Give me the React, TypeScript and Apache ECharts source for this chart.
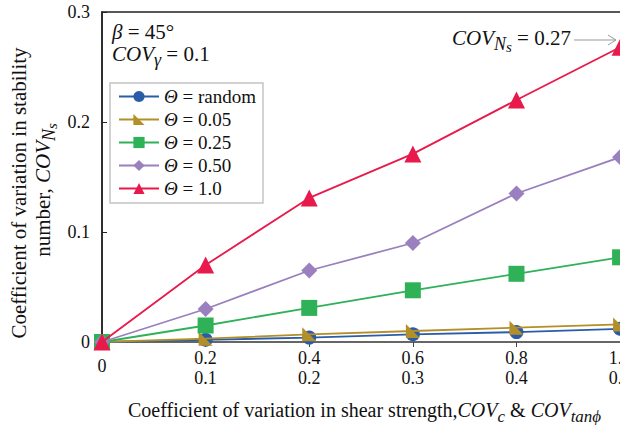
import React, { useEffect, useRef } from "react";
import * as echarts from "echarts";

const xValues = [0, 0.2, 0.4, 0.6, 0.8, 1.0];
const seriesNames = ["Θ = random", "Θ = 0.05", "Θ = 0.25", "Θ = 0.50", "Θ = 1.0"];
const randomVals = [0, 0.002, 0.004, 0.007, 0.009, 0.012];
const theta005 = [0, 0.003, 0.007, 0.01, 0.013, 0.016];
const theta025 = [0, 0.015, 0.031, 0.047, 0.062, 0.077];
const theta050 = [0, 0.03, 0.065, 0.09, 0.135, 0.168];
const theta100 = [0, 0.07, 0.131, 0.171, 0.22, 0.268];
const yTicks = [0, 0.1, 0.2, 0.3];

const FONT = "'Liberation Serif', 'Times New Roman', serif";

function makeRich(base: number) {
  return {
    i: { fontStyle: "italic", fontFamily: FONT, fontSize: base, lineHeight: 24 },
    s: {
      fontStyle: "italic",
      fontFamily: FONT,
      fontSize: Math.round(base * 0.86),
      lineHeight: 24,
      padding: [12, 0, 0, 0],
    },
    ss: {
      fontStyle: "italic",
      fontFamily: FONT,
      fontSize: Math.round(base * 0.7),
      lineHeight: 24,
      padding: [18, 0, 0, 0],
    },
  };
}

export default function App() {
  const ref = useRef<HTMLDivElement>(null);
  useEffect(() => {
    if (!ref.current) return;
    const chart = echarts.init(ref.current, null, { renderer: "svg" });
    const colors = ["#2b5ca8", "#b38f2a", "#2fb158", "#9a80be", "#e8194b"];
    const symbols = [
      "circle",
      "path://M0,0 L0,10 L10,10 Z",
      "rect",
      "diamond",
      "triangle",
    ];
    const sizes = [14, 14, 16, 16, 17];
    const allData = [randomVals, theta005, theta025, theta050, theta100];
    const rich21 = makeRich(21);
    const rich20 = makeRich(20);
    chart.setOption({
      animation: false,
      grid: {
        left: 102,
        top: 12,
        right: 14,
        bottom: 83,
        show: true,
        borderColor: "#222",
        borderWidth: 1.5,
      },
      xAxis: {
        type: "value",
        min: 0,
        max: 1.05,
        interval: 0.2,
        splitLine: { show: false },
        axisLine: { lineStyle: { color: "#666", width: 2 } },
        axisTick: { show: true, length: 5, inside: false, lineStyle: { color: "#444" } },
        axisLabel: {
          showMaxLabel: false,
          margin: 6,
          color: "#111",
          fontFamily: FONT,
          fontSize: 18,
          lineHeight: 20,
          formatter: (v: number) =>
            v === 0 ? "{z|0}" : `${v.toFixed(1)}\n${(v / 2).toFixed(1)}`,
          rich: { z: { fontFamily: FONT, fontSize: 18, lineHeight: 36, color: "#111" } },
        },
      },
      yAxis: {
        type: "value",
        min: yTicks[0],
        max: yTicks[yTicks.length - 1],
        interval: 0.1,
        splitLine: { show: false },
        axisLine: { show: true, lineStyle: { color: "#222", width: 1.5 } },
        axisTick: { show: true, inside: true, length: 5, lineStyle: { color: "#222" } },
        axisLabel: {
          margin: 12,
          color: "#111",
          fontFamily: FONT,
          fontSize: 18,
          formatter: (v: number) => (v === 0 ? "0" : v.toFixed(1)),
        },
      },
      legend: {
        orient: "vertical",
        left: 110,
        top: 83,
        itemWidth: 40,
        itemHeight: 14,
        itemGap: 4,
        padding: [4, 7, 5, 8],
        backgroundColor: "#fff",
        borderColor: "#c4c4c4",
        borderWidth: 1.5,
        data: seriesNames,
        formatter: (name: string) => name.replace("Θ", "{i|Θ}"),
        textStyle: {
          fontFamily: FONT,
          fontSize: 19,
          lineHeight: 19,
          color: "#111",
          rich: { i: { fontStyle: "italic", fontFamily: FONT, fontSize: 19, lineHeight: 19, color: "#111" } },
        },
      },
      series: seriesNames.map((name, k) => ({
        name,
        type: "line",
        data: xValues.map((x, j) => [x, allData[k][j]]),
        symbol: symbols[k],
        symbolSize: sizes[k],
        symbolKeepAspect: true,
        showAllSymbol: true,
        clip: false,
        z: 2 + k,
        lineStyle: { color: colors[k], width: 1.8 },
        itemStyle: { color: colors[k] },
      })),
      graphic: [
        {
          type: "text",
          x: 112,
          y: 32,
          style: {
            text: "{i|β} = 45°",
            fontFamily: FONT,
            fontSize: 21,
            fill: "#111",
            textVerticalAlign: "middle",
            rich: rich21,
          },
        },
        {
          type: "text",
          x: 112,
          y: 54,
          style: {
            text: "{i|COV}{s|γ} = 0.1",
            fontFamily: FONT,
            fontSize: 21,
            fill: "#111",
            textVerticalAlign: "middle",
            rich: rich21,
          },
        },
        {
          type: "text",
          x: 452,
          y: 38,
          style: {
            text: "{i|COV}{s|N}{ss|s} = 0.27",
            fontFamily: FONT,
            fontSize: 21,
            fill: "#111",
            textVerticalAlign: "middle",
            rich: rich21,
          },
        },
        {
          type: "line",
          shape: { x1: 574, y1: 40, x2: 616, y2: 40 },
          style: { stroke: "#999", lineWidth: 1 },
        },
        {
          type: "polyline",
          shape: { points: [[608, 35], [616, 40], [608, 45]] },
          style: { stroke: "#999", lineWidth: 1, fill: "none" },
        },
        {
          type: "text",
          x: 19,
          y: 193,
          rotation: Math.PI / 2,
          style: {
            text: "Coefficient of variation in stability",
            fontFamily: FONT,
            fontSize: 21,
            fill: "#111",
            textAlign: "center",
            textVerticalAlign: "middle",
          },
        },
        {
          type: "text",
          x: 43,
          y: 190,
          rotation: Math.PI / 2,
          style: {
            text: "number, {i|COV}{s|N}{ss|s}",
            fontFamily: FONT,
            fontSize: 21,
            fill: "#111",
            textAlign: "center",
            textVerticalAlign: "middle",
            rich: rich21,
          },
        },
        {
          type: "text",
          x: 128,
          y: 410,
          style: {
            text: "Coefficient of variation in shear strength,{i|COV}{s|c} & {i|COV}{s|tanϕ}",
            fontFamily: FONT,
            fontSize: 20,
            fill: "#111",
            textVerticalAlign: "middle",
            rich: rich20,
          },
        },
      ],
    });
    return () => chart.dispose();
  }, []);
  return (
    <div
      style={{
        position: "fixed",
        left: 0,
        top: 0,
        width: 620,
        height: 425,
        overflow: "hidden",
        background: "#fff",
      }}
    >
      <div ref={ref} style={{ width: 660, height: 425 }} />
    </div>
  );
}
